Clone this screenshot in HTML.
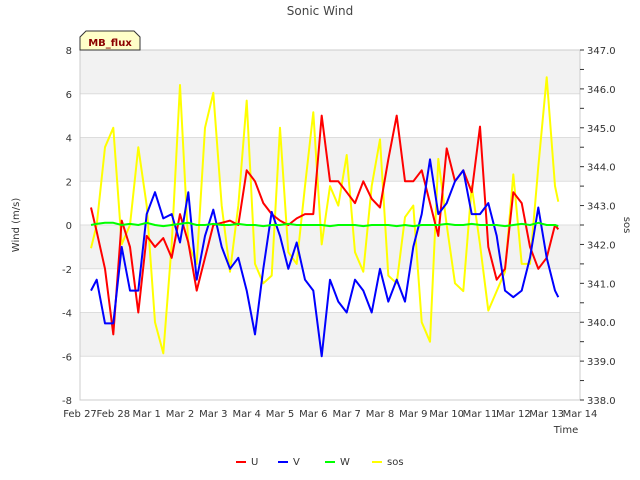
<!DOCTYPE html>
<html><head><meta charset="utf-8">
<style>
body{margin:0;background:#fff;}
svg{display:block;font-family:"DejaVu Sans","Liberation Sans",sans-serif;}
</style></head>
<body>
<svg id="chart" width="640" height="480" viewBox="0 0 640 480" xmlns="http://www.w3.org/2000/svg">
<rect x="0" y="0" width="640" height="480" fill="#fff"/>
<g id="bands"></g>
<g id="grid"></g>
<rect x="80" y="50" width="500" height="350" fill="none" stroke="#cccccc"/>
<g id="series"></g>
<g id="axes"></g>
<text x="320" y="15" text-anchor="middle" font-size="12" fill="#444">Sonic Wind</text>
<text transform="translate(19,225) rotate(-90)" text-anchor="middle" font-size="10" fill="#333">Wind (m/s)</text>
<text transform="translate(624,225) rotate(90)" text-anchor="middle" font-size="10" fill="#333">sos</text>
<text x="566" y="433" text-anchor="middle" font-size="10" fill="#333">Time</text>
<g>
<path d="M80,50 L80,37 L86,31 L134,31 L140,37 L140,50 Z" fill="#ffffc8" stroke="#333" stroke-width="1"/>
<text x="110" y="46" text-anchor="middle" font-size="10" font-weight="bold" fill="#8b0000">MB_flux</text>
</g>
<g id="legend"></g>
</svg>
<script>
const times=[0.33,0.5,0.75,1,1.25,1.5,1.75,2,2.25,2.5,2.75,3,3.25,3.5,3.75,4,4.25,4.5,4.75,5,5.25,5.5,5.75,6,6.25,6.5,6.75,7,7.25,7.5,7.75,8,8.25,8.5,8.75,9,9.25,9.5,9.75,10,10.25,10.5,10.75,11,11.25,11.5,11.75,12,12.25,12.5,12.75,13,13.25,13.5,13.75,14,14.25,14.35];
const uVals=[0.8,-0.3,-2,-5,0.2,-1,-4,-0.5,-1,-0.6,-1.5,0.5,-0.8,-3,-1.5,0,0.1,0.2,0,2.5,2,1,0.5,0.2,0,0.3,0.5,0.5,5,2,2,1.5,1,2,1.2,0.8,3,5,2,2,2.5,1,-0.5,3.5,2,2.5,1.5,4.5,-1,-2.5,-2,1.5,1,-1,-2,-1.5,0,-0.2];
const vVals=[-3,-2.5,-4.5,-4.5,-1,-3,-3,0.5,1.5,0.3,0.5,-0.8,1.5,-2.5,-0.5,0.7,-1,-2,-1.5,-3,-5,-2,0.6,-0.5,-2,-0.8,-2.5,-3,-6,-2.5,-3.5,-4,-2.5,-3,-4,-2,-3.5,-2.5,-3.5,-1,0.5,3,0.5,1,2,2.5,0.5,0.5,1,-0.5,-3,-3.3,-3,-1.5,0.8,-1.5,-3,-3.3];
const wVals=[0,0.05,0.1,0.1,0,0.05,0,0.1,0,-0.05,0,0.05,0.1,0,0,0.05,0,0,0.05,0,0,-0.05,0,0,0.05,0,0,0,0,-0.05,0,0,0,-0.05,0,0,0,-0.05,0,-0.05,0,0,0,0.05,0,0,0.05,0,0,0,-0.05,0,0.05,0,0.1,0,0,-0.05];
const sosVals=[341.9,342.5,344.5,345,342,342.5,344.5,343,340,339.2,342,346.1,342,341.5,345,345.9,343,341.3,343,345.7,341.5,341,341.2,345,341.8,341.5,343.5,345.4,342,343.5,343,344.3,341.8,341.3,343.5,344.7,341.2,341,342.7,343,340,339.5,344.2,342.5,341,340.8,343.5,342,340.3,340.8,341.3,343.8,341.5,341.5,344,346.3,343.5,343.1];
const xLabels=["Feb 27","Feb 28","Mar 1","Mar 2","Mar 3","Mar 4","Mar 5","Mar 6","Mar 7","Mar 8","Mar 9","Mar 10","Mar 11","Mar 12","Mar 13","Mar 14"];
const yTicks=[-8,-6,-4,-2,0,2,4,6,8];
const y2Ticks=[338,339,340,341,342,343,344,345,346,347];

const NS="http://www.w3.org/2000/svg";
const X0=80,X1=580,Y0=50,Y1=400;
const xs=t=>X0+t*(X1-X0)/15;
const ys=v=>Y0+(8-v)*(Y1-Y0)/16;
const ys2=v=>Y0+(347-v)*(Y1-Y0)/9;
function mk(tag,attrs,parent){const e=document.createElementNS(NS,tag);for(const k in attrs)e.setAttribute(k,attrs[k]);parent.appendChild(e);return e;}
const bands=document.getElementById('bands'),grid=document.getElementById('grid'),axes=document.getElementById('axes'),series=document.getElementById('series'),legend=document.getElementById('legend');
for(let i=0;i<yTicks.length-1;i++){
  const lo=yTicks[i],hi=yTicks[i+1];
  if(i%2===1){const r=mk('rect',{x:X0,y:ys(hi),width:X1-X0,height:ys(lo)-ys(hi),fill:'#f2f2f2'},bands);
  
  }
}
yTicks.forEach(v=>{
  const l=mk('line',{x1:X0,x2:X1,y1:ys(v),y2:ys(v),stroke:'#dddddd'},grid);
  
  
  const t=mk('text',{x:X0-8,y:ys(v)+4,'text-anchor':'end','font-size':'10',fill:'#333'},axes);
  t.textContent=v;
  
  
});
mk('line',{x1:X1,x2:X1,y1:Y0,y2:Y1,stroke:'#cccccc'},axes);
y2Ticks.forEach(v=>{
  mk('line',{x1:X1,x2:X1+4,y1:ys2(v),y2:ys2(v),stroke:'#333'},axes);
  if(v<347)mk('line',{x1:X1,x2:X1+4,y1:ys2(v+0.5),y2:ys2(v+0.5),stroke:'#333'},axes);
  const t=mk('text',{x:X1+7,y:ys2(v)+4,'font-size':'10',fill:'#333'},axes);
  t.textContent=v.toFixed(1);
  
  
});
xLabels.forEach((s,i)=>{
  const t=mk('text',{x:xs(i),y:417,'text-anchor':'middle','font-size':'10',fill:'#333'},axes);
  t.textContent=s;
  
  
});
function line(vals,color,yf,name){
  const d=vals.map((v,i)=>(i?'L':'M')+xs(times[i]).toFixed(1)+','+yf(v).toFixed(1)).join(' ');
  const p=mk('path',{d:d,fill:'none',stroke:color,'stroke-width':'2','stroke-linejoin':'round'},series);
  
  
}
line(sosVals,'#ffff00',ys2,'sos-line');
line(uVals,'#ff0000',ys,'u-line');
line(vVals,'#0000ff',ys,'v-line');
line(wVals,'#00ff00',ys,'w-line');
const leg=[['U','#ff0000',236],['V','#0000ff',278],['W','#00ff00',325],['sos','#ffff00',372]];
leg.forEach(([n,c,x])=>{
  const g=mk('g',{},legend);
  
  
  mk('line',{x1:x,x2:x+10,y1:462,y2:462,stroke:c,'stroke-width':'2'},g);
  const t=mk('text',{x:x+15,y:465,'font-size':'10',fill:'#333'},g);
  t.textContent=n;
});
</script>
</body></html>
